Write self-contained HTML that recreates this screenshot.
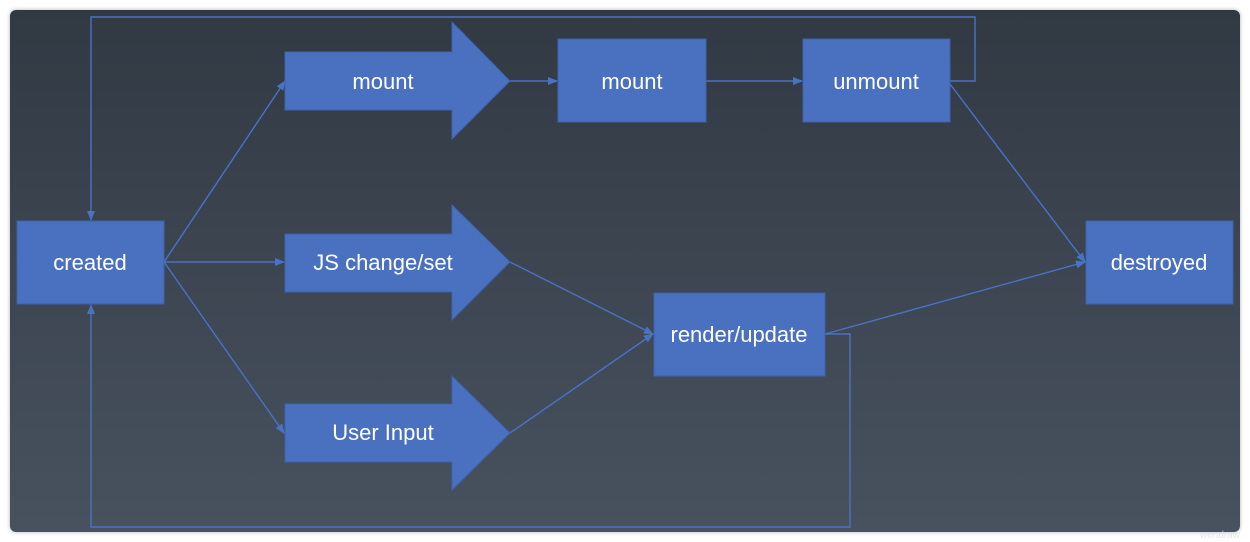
<!DOCTYPE html>
<html><head><style>
html,body{margin:0;padding:0;background:#fff;}
.p{position:absolute;left:10px;top:10px;width:1230px;height:522px;border-radius:6px;background:linear-gradient(#313943,#48525f);box-shadow:0 0 4px rgba(0,0,0,.3);}
</style></head><body>
<div class="p"></div>
<svg width="1250" height="542" style="position:absolute;left:0;top:0" font-family="Liberation Sans, sans-serif" font-size="22" fill="#fff">
<defs><marker id="a" markerWidth="10" markerHeight="8" refX="9" refY="4" orient="auto" markerUnits="userSpaceOnUse"><path d="M0,0L10,4L0,8z" fill="#4a72c4"/></marker></defs>
<g stroke="#4a72c4" stroke-width="1.4" fill="none" marker-end="url(#a)">
<polyline points="950,81 975,81 975,17 91,17 91,220"/>
<polyline points="825,334 850,334 850,527 91,527 91,305"/>
<line x1="164" y1="262" x2="285" y2="81"/>
<line x1="164" y1="262" x2="284" y2="262"/>
<line x1="164" y1="262" x2="284" y2="433"/>
<line x1="510" y1="81" x2="557" y2="81"/>
<line x1="706" y1="81" x2="802" y2="81"/>
<line x1="950" y1="84" x2="1085" y2="262"/>
<line x1="510" y1="262" x2="653" y2="334"/>
<line x1="510" y1="433" x2="653" y2="334"/>
<line x1="825" y1="334" x2="1085" y2="262"/>
</g>
<g fill="#4a70c0" stroke="#3f62ad" stroke-width="1">
<rect x="17" y="221" width="147" height="83"/>
<rect x="558" y="39" width="148" height="83"/>
<rect x="803" y="39" width="147" height="83"/>
<rect x="1086" y="221" width="147" height="83"/>
<rect x="654" y="293" width="171" height="83"/>
<path d="M285,52H452V22L510,81L452,139V110H285z"/>
<path d="M285,234H452V205L510,262L452,320V292H285z"/>
<path d="M285,404H452V376L510,433L452,490V462H285z"/>
</g>
<g text-anchor="middle">
<text x="90" y="270">created</text>
<text x="383" y="89">mount</text>
<text x="632" y="89">mount</text>
<text x="876" y="89">unmount</text>
<text x="383" y="270">JS change/set</text>
<text x="383" y="440">User Input</text>
<text x="739" y="342">render/update</text>
<text x="1159" y="270">destroyed</text>
</g>
<text x="1200" y="538" font-size="10" fill="#ddd" opacity=".7">wendraw</text>
</svg>
</body></html>
